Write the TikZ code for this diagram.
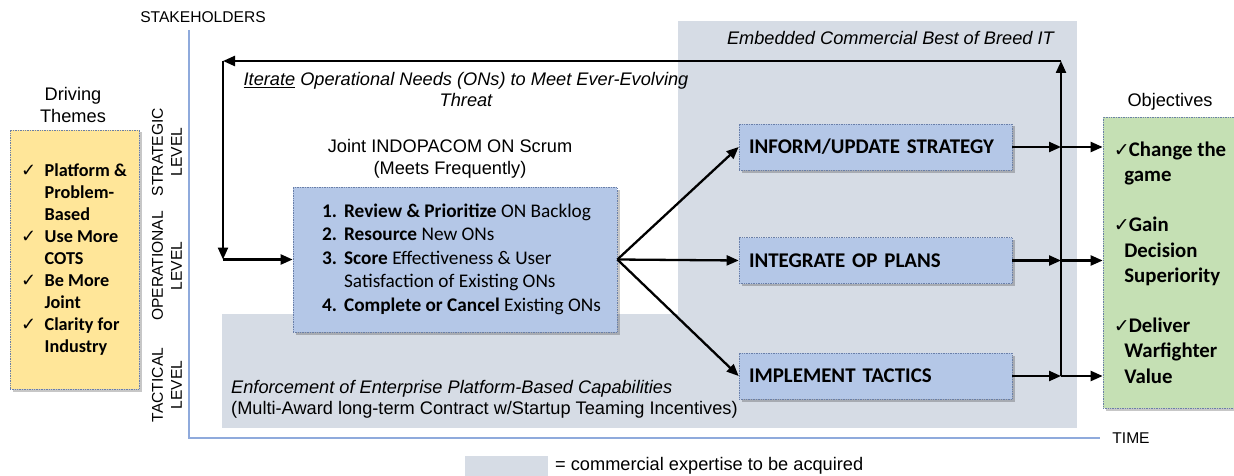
\documentclass[tikz,border=0pt]{standalone}
\usepackage{fontspec}
\setmainfont{Liberation Sans}
\newfontfamily\calibri{Carlito}
\newfontfamily\symf{DejaVu Sans}
\usetikzlibrary{arrows.meta,shadows}
\definecolor{expgray}{HTML}{D6DCE5}
\definecolor{scrumblue}{HTML}{B4C7E7}
\definecolor{themeyellow}{HTML}{FFE699}
\definecolor{objgreen}{HTML}{C5E0B4}
\definecolor{axisblue}{HTML}{8FAADC}
\definecolor{dotedge}{HTML}{6A7FA8}
\newcommand{\tck}{\makebox[22.5pt][l]{\hspace{-1pt}\symf\mdseries\fontsize{18}{18}\selectfont ✓}}
\newcommand{\ntk}{\hspace*{22.5pt}}
\newcommand{\ock}{\makebox[14pt][l]{\hspace{-1pt}\symf\mdseries\fontsize{19}{19}\selectfont ✓}}
\newcommand{\ond}{\hspace*{9.5pt}}
\tikzset{lbl/.style={font=\fontsize{15.6}{19}\selectfont,inner sep=0pt}, head/.style={font=\fontsize{18.2}{22}\selectfont,inner sep=0pt}, itl/.style={font=\fontsize{18.2}{21}\selectfont\itshape,inner sep=0pt}}
\tikzset{dotbox/.style={draw=dotedge,densely dotted,line width=0.7pt,inner sep=0pt,drop shadow={shadow xshift=2.5pt,shadow yshift=-2.5pt,fill=black,opacity=0.22}}, bluebox/.style={dotbox,fill=scrumblue}, actbox/.style={bluebox,minimum width=273pt,minimum height=46pt,text width=253pt,inner xsep=10pt,align=left,font=\fontsize{20.9}{25}\selectfont\calibri\bfseries}, themebox/.style={dotbox,fill=themeyellow,minimum width=129pt,minimum height=259pt,align=left,font=\fontsize{18.2}{22}\selectfont\calibri\bfseries}, objbox/.style={dotbox,fill=objgreen,minimum width=135pt,minimum height=291pt,align=left,font=\fontsize{20.8}{25.2}\selectfont\calibri\bfseries}, arr/.style={line width=2.3pt,-{Triangle[length=12pt,width=10pt]}}}

\begin{document}
\begin{tikzpicture}[x=1pt,y=-1pt]
\useasboundingbox (0,0) rectangle (1234,476);
% areas with commercial expertise
\fill[expgray] (678,21) rectangle (1077,428);
\fill[expgray] (222,314) rectangle (678,428);
\draw[axisblue,line width=1.4pt] (189,30) -- (189,438) -- (1100,438);
\node[lbl] (stake) at (203,17) {STAKEHOLDERS};
\node[lbl] (time) at (1131,438) {TIME};
\node[lbl,rotate=90,align=center] (strat) at (167,152) {STRATEGIC\\LEVEL};
\node[lbl,rotate=90,align=center] (oper) at (167,266) {OPERATIONAL\\LEVEL};
\node[lbl,rotate=90,align=center] (tact) at (167,385) {TACTICAL\\LEVEL};
\node[itl,anchor=east] (embed) at (1054,38) {Embedded Commercial Best of Breed IT};
\node[itl,align=left,anchor=west] (enforce) at (231,399.5) {Enforcement of Enterprise Platform-Based Capabilities\\\upshape(Multi-Award long-term Contract w/Startup Teaming Incentives)};
% left and right columns
\node[head,align=center] (drvhd) at (73,105) {Driving\\Themes};
\node[themebox] (themes) at (74.5,259.5) {\tck Platform \&\\\ntk Problem-\\\ntk Based\\\tck Use More\\\ntk COTS\\\tck Be More\\\ntk Joint\\\tck Clarity for\\\ntk Industry};
\node[head] (objhd) at (1170,102) {Objectives};
\node[objbox] (objs) at (1170.5,262.5) {\ock Change the\\\ond game\\[25.2pt]\ock Gain\\\ond Decision\\\ond Superiority\\[25.2pt]\ock Deliver\\\ond Warfighter\\\ond Value};
% scrum and actions
\node[itl,align=center] (iter) at (466,89.5) {\underline{Iterate} Operational Needs (ONs) to Meet Ever-Evolving\\Threat};
\node[head,align=center] (scrumhd) at (450,159) {Joint INDOPACOM ON Scrum\\(Meets Frequently)};
\node[bluebox,minimum width=324pt,minimum height=145pt,font=\fontsize{19.3}{23.5}\selectfont\calibri] (scrum) at (455,259.5) {\begin{tabular}{@{\hspace{13pt}}l@{\hspace{7pt}}l@{}}
\textbf{1.} & \textbf{Review \& Prioritize} ON Backlog\\
\textbf{2.} & \textbf{Resource} New ONs\\
\textbf{3.} & \textbf{Score} Effectiveness \& User\\
 & Satisfaction of Existing ONs\\
\textbf{4.} & \textbf{Complete or Cancel} Existing ONs
\end{tabular}};
\node[actbox] (inform) at (875.5,147) {INFORM/UPDATE STRATEGY};
\node[actbox] (integ) at (875.5,260.5) {INTEGRATE OP PLANS};
\node[actbox] (impl) at (875.5,376) {IMPLEMENT TACTICS};
% feedback loop
\coordinate (busB) at (1061,376);
\coordinate (loopTR) at (1061,61);
\coordinate (loopTL) at (223,61);
\coordinate (loopBL) at (223,259.5);
\draw[arr] (busB) -- (loopTR);
\draw[arr] (loopTR) -- (loopTL);
\draw[arr] (loopTL) -- (loopBL);
\draw[arr] (loopBL) -- (scrum.west);
\draw[arr] (scrum.east) -- (inform.west);
\draw[arr] (scrum.east) -- (integ.west);
\draw[arr] (scrum.east) -- (impl.west);
\foreach \act in {inform,integ,impl}{
 \draw[arr] (\act.east) -- (\act.east -| busB);
 \draw[arr] (\act.east -| busB) -- (\act.east -| objs.west);
}
% legend
\node[fill=expgray,minimum width=83pt,minimum height=20pt,inner sep=0pt] (legkey) at (506.5,466) {};
\node[head,anchor=west] (legtxt) at (555,466) {= commercial expertise to be acquired};
\end{tikzpicture}
\end{document}
